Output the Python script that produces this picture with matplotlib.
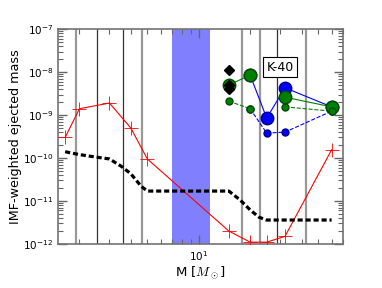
import numpy as np
import matplotlib
matplotlib.use('Agg')
import matplotlib.pyplot as plt
from matplotlib.ticker import NullFormatter

plt.rcParams['mathtext.fontset'] = 'cm'

# red: IMF-weighted yields of low/intermediate and massive stars
m_red = [1.65, 2, 3, 4, 5, 15, 20, 25, 32, 60]
y_red = [3.0e-10, 1.4e-9, 1.9e-9, 5e-10, 9.5e-11, 2e-12, 1.1e-12, 1.1e-12, 1.5e-12, 1.55e-10]

# black dashed reference curve
m_ref = [1.65, 2, 2.5, 3, 3.5, 4, 4.6, 5, 15, 17.5, 20, 22.5, 25, 60]
y_ref = [1.4e-10, 1.2e-10, 1.05e-10, 9.5e-11, 6.5e-11, 4.3e-11, 2.2e-11, 1.7e-11,
         1.7e-11, 1.05e-11, 6.2e-12, 4.2e-12, 3.6e-12, 3.6e-12]

# massive star models
m_big = [15, 20, 25, 32, 60]
y_blue_big = [np.nan, 8.5e-9, 8.5e-10, 4.3e-9, 1.55e-9]
y_green_big = [5e-9, 8.5e-9, np.nan, 2.6e-9, 1.55e-9]
y_blue_small = [np.nan, 1.4e-9, 3.8e-10, 4.0e-10, 1.23e-9]
y_green_small = [2.1e-9, 1.4e-9, np.nan, 1.55e-9, 1.23e-9]

m_dia = [15, 15, 15]
y_dia = [1.1e-8, 5e-9, 4e-9]

gray_lines = [1.9, 4.65, 17.9, 22.8, 42.5]
black_lines = [2.55, 3.6, 28.7]
span = (7.0, 11.6)

fig = plt.figure(figsize=(3.82, 2.88), dpi=100)
ax = fig.add_axes([0.152, 0.153, 0.746, 0.746])

ax.axvspan(span[0], span[1], color=(0.5, 0.5, 1.0), zorder=0, lw=0)
for x in gray_lines:
    ax.axvline(x, color='0.6', lw=1.6, zorder=1)
for x in black_lines:
    ax.axvline(x, color='0.2', lw=0.9, zorder=1)

ax.plot(m_red, y_red, '-', color='red', lw=0.8, marker='+', ms=10, mew=0.6, zorder=3)
ax.plot(m_ref, y_ref, color='k', lw=2.3, ls=(0, (1.6, 0.9)), zorder=3)

ax.plot(m_big, y_blue_small, '--', color='blue', lw=0.8, marker='o', ms=5,
        mec='#00008b', zorder=4)
ax.plot(m_big, y_green_small, '--', color='green', lw=0.8, marker='o', ms=5,
        mec='#004d00', zorder=4)
ax.plot(m_big, y_blue_big, '-', color='blue', lw=0.8, marker='o', ms=9,
        mec='#00008b', zorder=5)
ax.plot(m_big, y_green_big, '-', color='green', lw=0.8, marker='o', ms=9,
        mec='#004d00', zorder=5)
ax.plot(m_big[-1:], y_green_small[-1:], 'o', color='green', ms=5, mec='#004d00', zorder=6)
ax.plot(m_dia, y_dia, 'D', color='k', ms=5, ls='none', zorder=7)

ax.text(30, 1.3e-8, 'K-40', ha='center', va='center', fontsize=9, zorder=8,
        bbox=dict(facecolor='white', edgecolor='k', pad=2.5, lw=0.8))

ax.set_xscale('log')
ax.set_yscale('log')
ax.set_xlim(1.5, 70)
ax.set_ylim(1e-12, 1e-7)
ax.set_xticks([10])
ax.xaxis.set_minor_formatter(NullFormatter())
ax.yaxis.set_minor_formatter(NullFormatter())

for s in ax.spines.values():
    s.set_color('0.45')
    s.set_linewidth(1.2)
ax.tick_params(which='both', direction='in', top=True, right=True, color='0.4',
               labelsize=7.5)
ax.tick_params(which='major', length=6.5, width=1)
ax.tick_params(which='minor', length=3.5, width=0.8)

ax.set_xlabel(r'M [$M_\odot$]', fontsize=9.5, labelpad=1)
ax.set_ylabel('IMF-weighted ejected mass', fontsize=9.2, labelpad=1)

fig.savefig('out.png', dpi=100)
